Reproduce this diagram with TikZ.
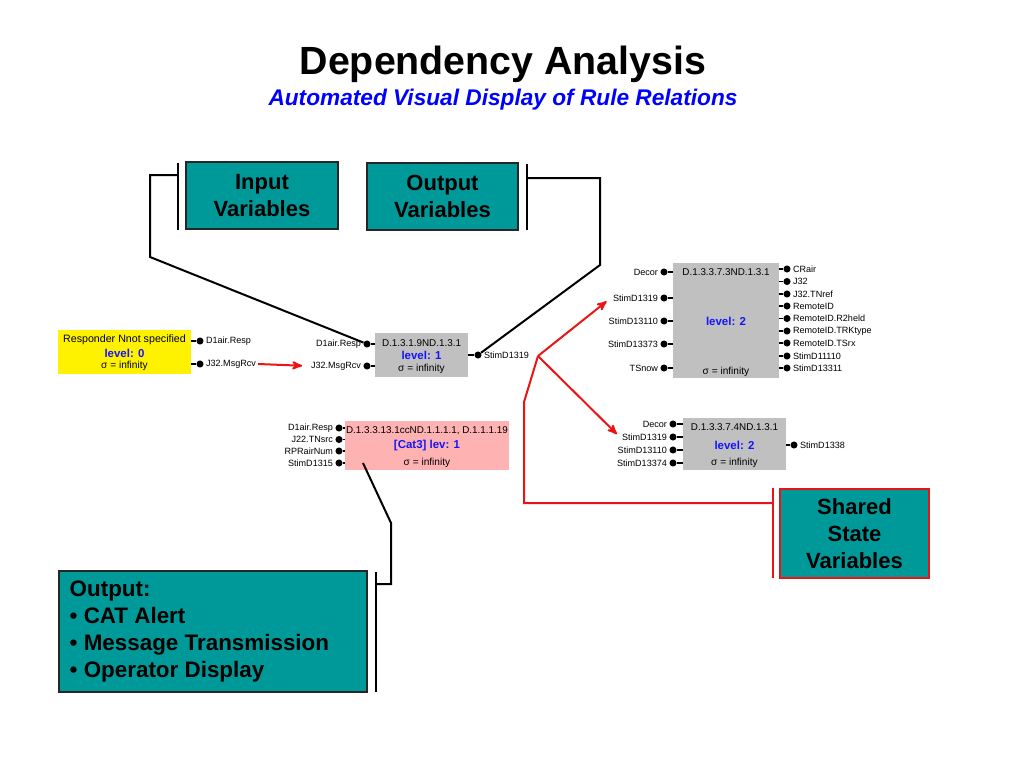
\documentclass[tikz,border=0pt]{standalone}
\usepackage{fontspec}
\setmainfont{Liberation Sans}
\usetikzlibrary{positioning}
\usetikzlibrary{calc}
\usetikzlibrary{arrows}
\definecolor{tealbox}{RGB}{0,153,153}
\definecolor{graybox}{RGB}{192,192,192}
\definecolor{pinkbox}{RGB}{255,178,178}
\definecolor{lvblue}{RGB}{20,20,255}
\definecolor{linered}{RGB}{235,20,20}
\tikzset{>=stealth'}
\tikzset{ttl/.style={font=\bfseries\fontsize{29.5}{34}\selectfont, inner sep=0pt}}
\tikzset{subttl/.style={font=\bfseries\itshape\fontsize{17}{20}\selectfont, text=blue, inner sep=0pt}}
\tikzset{varbox/.style={draw=black!85, line width=1.1pt, fill=tealbox, align=center, inner sep=0pt, font=\bfseries\fontsize{16.5}{20.3}\selectfont}}
\tikzset{gbox/.style={fill=graybox, inner sep=0pt}}
\tikzset{btitle/.style={font=\fontsize{7.4}{9}\selectfont, inner sep=0pt}}
\tikzset{blevel/.style={font=\bfseries\fontsize{8.6}{10}\selectfont, text=lvblue, inner sep=0pt}}
\tikzset{bsig/.style={font=\fontsize{7.6}{9}\selectfont, inner sep=0pt}}
\tikzset{pdot/.style={circle, fill=black, inner sep=0pt, minimum size=5.3pt}}
\tikzset{lab/.style={font=\fontsize{6.8}{8}\selectfont, inner sep=1.5pt}}
\tikzset{stem/.style={line width=0.8pt}}
\tikzset{conn/.style={line width=1.5pt, line join=miter}}
\tikzset{redline/.style={line width=1.5pt, draw=linered}}

\begin{document}
\begin{tikzpicture}[x=0.75pt,y=-0.75pt]
\useasboundingbox (0,0) rectangle (1024,768);

\node[ttl] (title) at (503,64) {Dependency Analysis};
\node[subttl] (subtitle) at (503,100) {Automated Visual Display of Rule Relations};

% variable boxes
\node[varbox, minimum width=114pt, minimum height=50.25pt] (in) at (262,195.5) {Input\\Variables};
\node[varbox, minimum width=113.25pt, minimum height=50.25pt] (out) at (442.5,196.5) {Output\\Variables};
\node[varbox, draw=linered, line width=1.5pt, minimum width=111.75pt, minimum height=66.75pt] (shared) at (854.5,533.5) {Shared\\State\\Variables};
\node[varbox, minimum width=231pt, minimum height=90.75pt] (outp) at (213,631.5) {};
\node[varbox, draw=none, fill=none, align=left, anchor=west, font=\bfseries\fontsize{16.8}{20.4}\selectfont] (outptxt) at (69,631.5)
 {Output:\\\textbullet\ CAT Alert\\\textbullet\ Message Transmission\\\textbullet\ Operator Display};

% responder
\node[gbox, fill=yellow, minimum width=99.75pt, minimum height=33pt] (y0) at (124.5,352) {};
\node[btitle, font=\fontsize{8}{9}\selectfont] (y0t) at (124.5,340) {Responder Nnot specified};
\node[blevel] (y0l) at (124.5,353) {level: 0};
\node[bsig] (y0s) at (124.5,366) {σ = infinity};
\node[pdot, label={[lab,name=y0al]right:D1air.Resp}] (y0a) at (200,341) {};
\node[pdot, label={[lab,name=y0bl]right:J32.MsgRcv}] (y0b) at (200,364) {};
\draw[stem] (y0a) -- (y0a -| y0.east) (y0b) -- (y0b -| y0.east);

% level 1
\node[gbox, minimum width=69.75pt, minimum height=33pt] (m1) at (421.5,355) {};
\node[btitle] (m1t) at (421.5,343) {D.1.3.1.9ND.1.3.1};
\node[blevel] (m1l) at (421.5,355) {level: 1};
\node[bsig] (m1s) at (421.5,369) {σ = infinity};
\node[pdot, label={[lab,name=m1al]left:D1air.Resp}] (m1a) at (367,344) {};
\node[pdot, label={[lab,name=m1bl]left:J32.MsgRcv}] (m1b) at (367,366) {};
\node[pdot, label={[lab,name=m1rl]right:StimD1319}] (m1r) at (478,355) {};
\draw[stem] (m1a) -- (m1a -| m1.west) (m1b) -- (m1b -| m1.west) (m1r) -- (m1r -| m1.east);

% cat3
\node[gbox, fill=pinkbox, minimum width=123pt, minimum height=36.75pt] (m2) at (427,445.5) {};
\node[btitle] (m2t) at (427,431) {D.1.3.3.13.1ccND.1.1.1.1, D.1.1.1.19};
\node[blevel] (m2l) at (427,446) {[Cat3] lev: 1};
\node[bsig] (m2s) at (427,463) {σ = infinity};
\node[pdot, label={[lab]left:D1air.Resp}] (m2a) at (339,428) {};
\node[pdot, label={[lab]left:J22.TNsrc}] (m2b) at (339,439.5) {};
\node[pdot, label={[lab]left:RPRairNum}] (m2c) at (339,451) {};
\node[pdot, label={[lab]left:StimD1315}] (m2d) at (339,463) {};
\draw[stem] (m2a) -- (m2a -| m2.west) (m2b) -- (m2b -| m2.west)
 (m2c) -- (m2c -| m2.west) (m2d) -- (m2d -| m2.west);

% level 2, upper
\node[gbox, minimum width=79.5pt, minimum height=86.25pt] (m3) at (726,320.5) {};
\node[btitle] (m3t) at (726,272) {D.1.3.3.7.3ND.1.3.1};
\node[blevel] (m3l) at (726,321) {level: 2};
\node[bsig] (m3s) at (726,372) {σ = infinity};
\node[pdot, label={[lab]left:Decor}] (m3a) at (664,272) {};
\node[pdot, label={[lab,name=m3bl]left:StimD1319}] (m3b) at (664,298) {};
\node[pdot, label={[lab]left:StimD13110}] (m3c) at (664,321) {};
\node[pdot, label={[lab]left:StimD13373}] (m3d) at (664,344) {};
\node[pdot, label={[lab]left:TSnow}] (m3e) at (664,368) {};
\draw[stem] (m3a) -- (m3a -| m3.west) (m3b) -- (m3b -| m3.west) (m3c) -- (m3c -| m3.west)
 (m3d) -- (m3d -| m3.west) (m3e) -- (m3e -| m3.west);
\node[pdot, label={[lab]right:CRair}] (m3r1) at (787,269) {};
\node[pdot, label={[lab]right:J32}] (m3r2) at (787,281.5) {};
\node[pdot, label={[lab]right:J32.TNref}] (m3r3) at (787,294) {};
\node[pdot, label={[lab]right:RemoteID}] (m3r4) at (787,306) {};
\node[pdot, label={[lab]right:RemoteID.R2held}] (m3r5) at (787,318.5) {};
\node[pdot, label={[lab]right:RemoteID.TRKtype}] (m3r6) at (787,331) {};
\node[pdot, label={[lab]right:RemoteID.TSrx}] (m3r7) at (787,343) {};
\node[pdot, label={[lab]right:StimD11110}] (m3r8) at (787,356) {};
\node[pdot, label={[lab]right:StimD13311}] (m3r9) at (787,368) {};
\draw[stem] (m3r1) -- (m3r1 -| m3.east) (m3r2) -- (m3r2 -| m3.east) (m3r3) -- (m3r3 -| m3.east)
 (m3r4) -- (m3r4 -| m3.east) (m3r5) -- (m3r5 -| m3.east) (m3r6) -- (m3r6 -| m3.east)
 (m3r7) -- (m3r7 -| m3.east) (m3r8) -- (m3r8 -| m3.east) (m3r9) -- (m3r9 -| m3.east);

% level 2, lower
\node[gbox, minimum width=77.25pt, minimum height=39pt] (m4) at (734.5,444) {};
\node[btitle] (m4t) at (734.5,427) {D.1.3.3.7.4ND.1.3.1};
\node[blevel] (m4l) at (734.5,445) {level: 2};
\node[bsig] (m4s) at (734.5,463) {σ = infinity};
\node[pdot, label={[lab]left:Decor}] (m4a) at (673,424) {};
\node[pdot, label={[lab,name=m4bl]left:StimD1319}] (m4b) at (673,437) {};
\node[pdot, label={[lab]left:StimD13110}] (m4c) at (673,450) {};
\node[pdot, label={[lab]left:StimD13374}] (m4d) at (673,463) {};
\node[pdot, label={[lab]right:StimD1338}] (m4r) at (794,445) {};
\draw[stem] (m4a) -- (m4a -| m4.west) (m4b) -- (m4b -| m4.west) (m4c) -- (m4c -| m4.west)
 (m4d) -- (m4d -| m4.west) (m4r) -- (m4r -| m4.east);

% brackets
\draw[conn] (178,163) -- (178,230);
\draw[conn] (527,164) -- (527,230);
\draw[conn] (376,572) -- (376,692);
\draw[redline] (773,488) -- (773,578);

\coordinate (inbar) at (178,175);
\coordinate (outbar) at (527,178);
\coordinate (outpbar) at (376,584);
\coordinate (shbar) at (773,503);
\coordinate (hub) at (538,356);
\coordinate (pk) at (363,463);

\draw[conn] (inbar) -| (150,257) -- (m1a);
\draw[conn] (outbar) -| (600,265) -- (m1r);
\draw[conn] (pk) -- (391,523) |- (outpbar);

\draw[redline,->,shorten >=5pt] (y0bl.east) -- (m1bl.west);
\draw[redline,->,shorten >=4pt] (hub) -- (m3bl.west);
\draw[redline,->,shorten >=3pt] (hub) -- (m4bl.west);
\draw[redline] (hub) -- (524,402) -- (524,503) -- (shbar);

\end{tikzpicture}
\end{document}
